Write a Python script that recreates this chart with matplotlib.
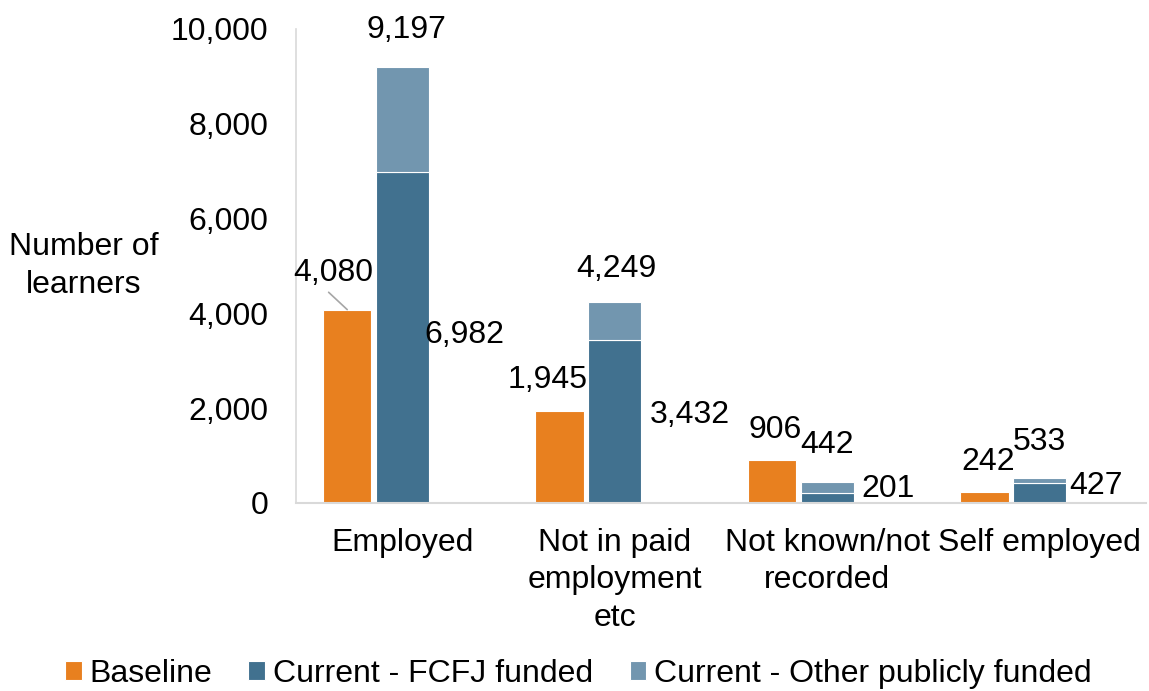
import matplotlib
matplotlib.use("Agg")
import matplotlib.pyplot as plt
import numpy as np
from matplotlib.ticker import FuncFormatter

plt.rcParams['font.family'] = ['Liberation Sans', 'DejaVu Sans']

categories = ["Employed", "Not in paid\nemployment\netc", "Not known/not\nrecorded", "Self employed"]
baseline = [4080, 1945, 906, 242]
fcfj = [6982, 3432, 201, 427]
totals = [9197, 4249, 442, 533]
other = [t - f for t, f in zip(totals, fcfj)]

c_base = "#E8801F"
c_fcfj = "#41718F"
c_other = "#7296AF"
FS = 23

fig = plt.figure(figsize=(11.49, 6.91), dpi=100)
ax = fig.add_axes([296/1149, 1 - 503/691, 850/1149, (503 - 29)/691])

x = np.arange(len(categories))
ax.bar(x - 0.259, baseline, width=0.228, color=c_base, edgecolor="white", linewidth=0.8, label="Baseline")
ax.bar(x, fcfj, width=0.25, color=c_fcfj, edgecolor="white", linewidth=0.8, label="Current - FCFJ funded")
ax.bar(x, other, bottom=fcfj, width=0.25, color=c_other, edgecolor="white", linewidth=0.8,
       label="Current - Other publicly funded")

ax.set_xlim(-0.5, len(categories) - 0.5)
ax.set_ylim(0, 10000)
ax.set_yticks(np.arange(0, 10001, 2000))
ax.yaxis.set_major_formatter(FuncFormatter(lambda v, p: f"{int(v):,}"))
ax.set_xticks(x)
ax.set_xticklabels(categories, fontsize=FS, linespacing=1.32)
ax.tick_params(axis='y', length=0, pad=20, labelsize=FS)
ax.tick_params(axis='x', length=0, pad=18)
for s in ["top", "right"]:
    ax.spines[s].set_visible(False)
ax.spines["left"].set_color("#D9D9D9")
ax.spines["bottom"].set_color("#D9D9D9")
ax.spines["left"].set_linewidth(1.2)
ax.spines["bottom"].set_linewidth(1.5)

# baseline labels
base_off = [(-14, 37), (-12, 31), (3, 30), (3, 30)]
for i, v in enumerate(baseline):
    kw = {}
    if i == 0:
        kw = dict(arrowprops=dict(arrowstyle='-', color='#A6A6A6', lw=1.2, shrinkA=2, shrinkB=0,
                                  relpos=(0.38, 0.0)))
    ax.annotate(f"{v:,}", xy=(i - 0.259, v), xytext=base_off[i], textcoords='offset pixels',
                ha='center', va='center', fontsize=FS, **kw)

# totals labels
tot_off = [(4, 37), (2, 33), (0, 37), (0, 36)]
for i, v in enumerate(totals):
    ax.annotate(f"{v:,}", xy=(i, v), xytext=tot_off[i], textcoords='offset pixels',
                ha='center', va='center', fontsize=FS)

# FCFJ labels to the right
fc_off = [(-4, 3), (8, 7), (8, 9), (3, 7)]
for i, v in enumerate(fcfj):
    ax.annotate(f"{v:,}", xy=(i + 0.125, v / 2), xytext=fc_off[i], textcoords='offset pixels',
                ha='left', va='center', fontsize=FS)

fig.text(84/1149, 1 - 266/691, "Number of\nlearners", ha='center', va='center',
         fontsize=FS, multialignment='center', linespacing=1.32)

fig.legend(loc='center', bbox_to_anchor=(578/1149, 1 - 674/691), ncol=3, frameon=False,
           fontsize=FS, handlelength=0.53, handleheight=0.53, handletextpad=0.23,
           columnspacing=1.15, borderpad=0)

fig.savefig("out.png", dpi=100)
